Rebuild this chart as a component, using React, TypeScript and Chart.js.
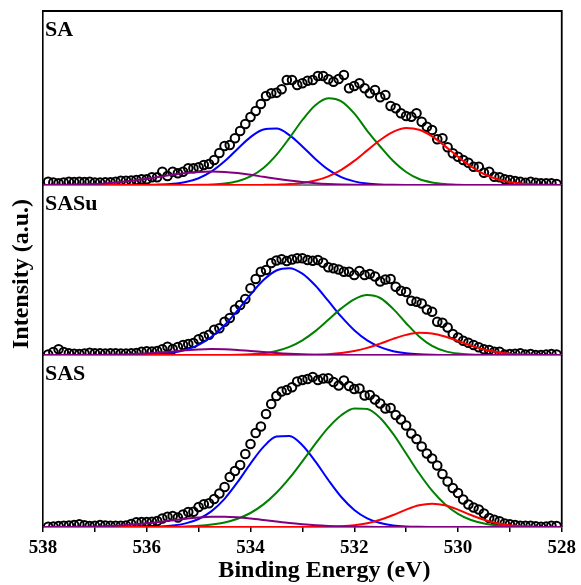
import React, { useEffect, useRef } from 'react';
import { Chart, registerables } from 'chart.js';
Chart.register(...registerables);

const FONT = "'Liberation Serif', 'Times New Roman', Times, serif";

const PANEL_NAMES = ['SA', 'SASu', 'SAS'];
const X_TICK_LABELS = [538, 536, 534, 532, 530, 528];
const X_MIN = 528;
const X_MAX = 538;

// measured points: 537.9 -> 528.1 eV, 0.1 eV steps
const MEAS_START = 537.9;
const MEAS_STEP = 0.1;
// fitted components: 538 -> 528 eV, 0.25 eV steps
const FIT_START = 538;
const FIT_STEP = 0.25;

const SA_DATA = [3.3,2.5,1.7,2.5,3.3,3.0,3.3,3.0,3.3,2.5,
 2.5,2.7,2.7,3.3,4.3,4.3,4.5,5.0,5.7,5.7,
 7.7,7.7,13.3,9.0,13.3,11.7,13.3,16.7,16.7,17.7,
 20.0,21.0,25.0,32.0,39.0,40.0,46.7,54.0,61.0,68.0,
 74.0,81.0,89.0,91.7,92.3,95.7,105.0,105.0,100.0,101.7,
 104.3,105.0,109.0,109.0,105.7,103.3,106.0,110.0,96.7,99.0,
 101.7,96.7,91.7,95.0,87.7,90.0,79.0,76.7,71.7,69.0,
 68.3,71.7,63.3,58.3,55.0,45.7,46.7,37.7,31.7,28.3,
 25.0,22.3,18.3,18.3,12.3,13.3,8.3,7.7,5.7,5.0,
 4.0,3.3,2.3,3.3,2.3,1.7,1.7,1.7,1.0];

const SASU_DATA = [0.5,3.0,5.7,3.0,1.7,1.3,1.0,1.5,2.3,1.7,
 1.7,1.5,1.7,1.7,1.5,1.5,1.7,2.0,3.3,3.7,
 3.5,4.0,5.7,8.3,6.0,8.0,10.0,11.0,12.0,15.7,
 18.3,20.3,25.3,26.7,33.3,37.0,45.5,50.0,56.0,66.7,
 76.0,83.3,85.0,92.0,94.5,95.7,94.0,95.5,96.7,96.7,
 95.0,94.3,95.0,92.3,87.7,86.7,85.5,83.3,83.3,80.0,
 84.0,80.0,81.0,78.5,73.5,75.5,76.0,68.3,64.3,63.0,
 54.3,53.3,51.5,45.5,43.3,33.3,32.3,27.5,21.0,17.5,
 14.3,12.3,10.0,7.7,5.7,5.0,3.3,3.3,0.5,1.0,
 1.3,1.7,0.5,1.0,0.0,0.0,0.5,1.0,0.5];

const SAS_DATA = [0.3,0.5,1.0,1.2,1.5,2.0,2.7,1.8,1.0,1.3,
 2.0,1.5,1.3,1.3,1.3,1.5,3.0,4.7,5.0,5.0,
 5.3,6.0,8.5,10.3,11.0,9.5,12.5,15.0,15.3,20.0,
 22.7,23.7,28.0,33.5,40.0,50.0,56.0,62.0,73.0,83.0,
 94.0,100.5,113.0,123.0,131.0,135.5,137.0,139.7,145.5,147.0,
 148.0,150.0,147.0,148.5,148.7,145.0,141.5,146.5,141.0,138.0,
 138.5,131.5,132.0,127.5,123.5,118.5,119.0,112.0,107.5,101.5,
 93.5,88.0,80.5,73.5,68.5,61.5,53.0,45.5,39.0,34.0,
 27.5,22.5,19.5,17.5,13.5,9.0,7.2,5.8,3.5,2.7,
 2.0,1.3,1.3,1.3,0.7,0.3,0.5,1.2,1.0];

const SA_PURPLE = [0.07,0.15,0.31,0.59,1.07,1.83,2.9,4.4,6.2,8.2,10.2,11.9,13.1,13.5,13.1,11.9,10.2,8.2,6.2,4.4,2.9,1.83,1.07,0.59,0.31,0.15,0.07,0,0,0,0,0,0,0,0,0,0,0,0,0,0];
const SA_BLUE = [0,0,0,0,0,0,0,0,0.11,0.38,1.15,3.0,6.8,13.6,23.7,36.1,47.9,55.6,56.4,49.9,38.6,26.1,15.4,7.9,3.6,1.4,0.48,0.15,0,0,0,0,0,0,0,0,0,0,0,0,0];
const SA_GREEN = [0,0,0,0,0,0,0,0,0,0,0,0,0.17,0.53,1.5,3.8,8.6,17.0,30.1,46.9,65.0,79.8,86.8,83.7,71.6,54.2,38.5,24.0,13.0,6.0,2.5,0.9,0.3,0.08,0,0,0,0,0,0,0];
const SA_RED = [0,0,0,0,0,0,0,0,0,0,0,0,0,0,0,0,0.04,0.12,0.35,0.91,2.1,4.5,8.7,15.2,24.1,34.6,45.0,53.1,56.9,55.2,48.7,38.9,28.2,18.5,11.0,6.0,2.9,1.3,0.52,0.19,0.07];

const SASU_PURPLE = [0,0,0.01,0.04,0.1,0.22,0.48,0.92,1.6,2.5,3.6,4.7,5.6,6.0,5.8,5.1,4.1,3.0,1.95,1.16,0.63,0.31,0.14,0.05,0,0,0,0,0,0,0,0,0,0,0,0,0,0,0,0,0];
const SASU_BLUE = [0,0,0,0,0,0,0.04,0.13,0.38,1.0,2.4,5.1,10.1,18.2,29.8,44.5,60.4,74.9,84.5,86.8,81.4,69.5,54.1,38.3,24.8,14.6,7.8,3.8,1.7,0.7,0.26,0.08,0,0,0,0,0,0,0,0,0];
const SASU_GREEN = [0,0,0,0,0,0,0,0,0,0,0,0,0,0.03,0.09,0.27,0.73,1.8,4.0,8.1,14.7,23.9,35.2,46.6,55.7,59.9,57.0,46.1,31.8,18.6,9.2,3.9,1.4,0.43,0.11,0,0,0,0,0,0];
const SASU_RED = [0,0,0,0,0,0,0,0,0,0,0,0,0,0,0,0,0,0,0,0.03,0.1,0.31,0.81,1.9,3.9,7.1,11.4,16.1,20.1,22.2,21.6,18.5,14.0,9.4,5.5,2.9,1.3,0.54,0.19,0.06,0.02];

const SAS_PURPLE = [0.02,0.06,0.12,0.26,0.5,0.9,1.5,2.5,3.7,5.1,6.7,8.3,9.5,10.2,10.25,9.7,8.5,7.0,5.4,3.9,2.7,1.7,1.0,0.56,0.29,0.14,0.07,0.03,0,0,0,0,0,0,0,0,0,0,0,0,0];
const SAS_BLUE = [0,0,0,0,0,0,0.01,0.05,0.16,0.51,1.4,3.6,8.0,15.9,28.2,44.8,63.4,80.1,90.4,91.0,81.8,65.6,47.0,30.0,17.1,8.7,4.0,1.6,0.58,0.19,0.05,0,0,0,0,0,0,0,0,0,0];
const SAS_GREEN = [0,0,0,0,0,0,0,0,0,0.1,0.23,0.54,1.16,2.4,4.5,8.3,14.0,22.6,34.2,48.8,65.7,83.2,99.4,111.8,118.5,118.0,109.0,93.1,73.5,53.7,36.3,22.7,13.1,7.0,3.5,1.6,0.67,0.25,0.1,0,0];
const SAS_RED = [0,0,0,0,0,0,0,0,0,0,0,0,0,0,0,0,0,0,0,0,0.01,0.06,0.21,0.64,1.65,3.7,7.2,12.0,17.4,21.7,23.3,21.7,17.4,12.0,7.2,3.7,1.65,0.64,0.21,0.06,0.01];

const FIT_COLORS = ['#800080', '#ff0000', '#008000', '#0000ff'];

const PANELS = [
  { id: 'y1', name: PANEL_NAMES[0], data: SA_DATA, fits: [SA_PURPLE, SA_RED, SA_GREEN, SA_BLUE], max: 174 },
  { id: 'y2', name: PANEL_NAMES[1], data: SASU_DATA, fits: [SASU_PURPLE, SASU_RED, SASU_GREEN, SASU_BLUE], max: 170 },
  { id: 'y3', name: PANEL_NAMES[2], data: SAS_DATA, fits: [SAS_PURPLE, SAS_RED, SAS_GREEN, SAS_BLUE], max: 172 },
];

const round2 = (v: number) => Math.round(v * 100) / 100;

export default function App() {
  const ref = useRef<HTMLCanvasElement>(null);
  useEffect(() => {
    document.body.style.margin = '0';
    if (!ref.current) return;
    const datasets: any[] = [];
    PANELS.forEach((p) => {
      p.fits.forEach((vals, j) => {
        datasets.push({
          label: p.name + '-fit' + j,
          data: vals.map((v, k) => ({ x: round2(FIT_START - FIT_STEP * k), y: v })),
          yAxisID: p.id,
          xAxisID: 'x',
          borderColor: FIT_COLORS[j],
          borderWidth: 2,
          pointRadius: 0,
          fill: false,
          cubicInterpolationMode: 'monotone',
          order: j,
        });
      });
      datasets.push({
        label: p.name,
        data: p.data.map((v, k) => ({ x: round2(MEAS_START - MEAS_STEP * k), y: v })),
        yAxisID: p.id,
        xAxisID: 'x',
        showLine: false,
        pointRadius: 4.3,
        pointBorderWidth: 2,
        pointBorderColor: '#000',
        pointBackgroundColor: 'rgba(0,0,0,0)',
        order: 5,
      });
    });

    const yScale = (p: any) => ({
      type: 'linear',
      position: 'left',
      stack: 'panels',
      stackWeight: p.max,
      min: 0,
      max: p.max,
      ticks: { display: false },
      grid: { display: false },
      border: { display: true, color: '#000', width: 1.6 },
      afterFit: (s: any) => { s.width = 43; },
    });

    const framePlugin = {
      id: 'frame',
      beforeDatasetsDraw(chart: any) {
        const { ctx, chartArea } = chart;
        ctx.save();
        ctx.strokeStyle = '#000';
        ctx.lineWidth = 1;
        ['y1', 'y2'].forEach((id) => {
          const s = chart.scales[id];
          ctx.beginPath();
          ctx.moveTo(chartArea.left, s.bottom);
          ctx.lineTo(chartArea.right, s.bottom);
          ctx.stroke();
        });
        ctx.lineWidth = 1.8;
        ctx.beginPath();
        ctx.moveTo(chartArea.left, chartArea.top);
        ctx.lineTo(chartArea.right, chartArea.top);
        ctx.lineTo(chartArea.right, chartArea.bottom);
        ctx.stroke();
        ctx.restore();
      },
      afterDraw(chart: any) {
        const { ctx, chartArea } = chart;
        ctx.save();
        ctx.fillStyle = '#000';
        ctx.font = `bold 22px ${FONT}`;
        ctx.textAlign = 'left';
        ctx.textBaseline = 'alphabetic';
        PANELS.forEach((p) => {
          const s = chart.scales[p.id];
          ctx.fillText(p.name, chartArea.left + 2, s.top + 25);
        });
        ctx.font = `bold 24px ${FONT}`;
        ctx.textAlign = 'center';
        ctx.fillText('Binding Energy (eV)', (chartArea.left + chartArea.right) / 2 + 22, chart.height - 8);
        ctx.translate(28, (chartArea.top + chartArea.bottom) / 2 + 5);
        ctx.rotate(-Math.PI / 2);
        ctx.fillText('Intensity (a.u.)', 0, 0);
        ctx.restore();
      },
    };

    const chart = new Chart(ref.current, {
      type: 'line',
      data: { datasets },
      options: {
        animation: false,
        responsive: false,
        parsing: true,
        layout: { padding: { top: 11, right: 17, left: 0, bottom: 0 } },
        plugins: { legend: { display: false }, tooltip: { enabled: false }, title: { display: false } },
        scales: {
          x: {
            type: 'linear',
            position: 'bottom',
            min: X_MIN,
            max: X_MAX,
            reverse: true,
            ticks: {
              stepSize: 1,
              autoSkip: false,
              maxRotation: 0,
              padding: 5,
              color: '#000',
              font: { family: FONT, size: 19, weight: 'bold' },
              callback: (v: any) => (X_TICK_LABELS.includes(Number(v)) ? String(v) : ''),
            },
            grid: { drawOnChartArea: false, drawTicks: true, tickLength: 5, color: '#000', lineWidth: 1.5 },
            border: { display: true, color: '#000', width: 1.6 },
            afterFit: (s: any) => { s.height = 58; },
          },
          // stacked axes are laid out top-down in reverse definition order
          y3: yScale(PANELS[2]),
          y2: yScale(PANELS[1]),
          y1: yScale(PANELS[0]),
        } as any,
      },
      plugins: [framePlugin],
    } as any);
    return () => chart.destroy();
  }, []);
  return <canvas ref={ref} width={581} height={585} style={{ display: 'block' }} />;
}
